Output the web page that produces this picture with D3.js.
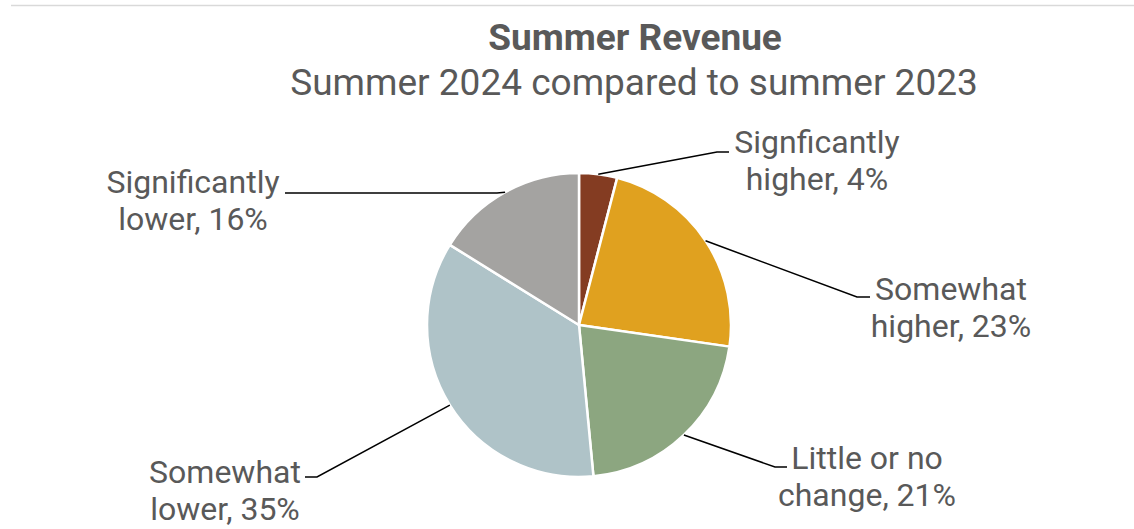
<!DOCTYPE html>
<html>
<head>
<meta charset="utf-8">
<script src="https://cdn.jsdelivr.net/npm/d3@7"></script>
<style>
  html, body { margin: 0; padding: 0; background: #fff; }
  svg { display: block; font-family: Roboto, "Noto Sans", sans-serif; }
</style>
</head>
<body>
<svg id="chart" width="1134" height="529"></svg>
<script>
// Survey answers, clockwise from 12 o'clock
const categories = ["Signficantly higher", "Somewhat higher", "Little or no change", "Somewhat lower", "Significantly lower"];
const shares = [4, 23, 21, 35, 16];
const labelLines = [
  ["Signficantly", "higher, 4%"],
  ["Somewhat", "higher, 23%"],
  ["Little or no", "change, 21%"],
  ["Somewhat", "lower, 35%"],
  ["Significantly", "lower, 16%"]
];
const title = "Summer Revenue";
const subtitle = "Summer 2024 compared to summer 2023";

// Styling and label placement
const sliceColors = ["#843C22", "#E0A11F", "#8CA680", "#AFC3C8", "#A4A3A1"];
const textColor = "#595959";
const center = { x: 579, y: 325 };
const radius = 152;
// text centre x, first baseline y, elbow of the leader, end of the leader
const labelLayout = [
  { tx: 817, ty: 153, ex: 717, ey: 152, lx: 729, ly: 152 },
  { tx: 951, ty: 300, ex: 857, ey: 297, lx: 870, ly: 297 },
  { tx: 867, ty: 469, ex: 775, ey: 467, lx: 787, ly: 467 },
  { tx: 225, ty: 483, ex: 317, ey: 477, lx: 305, ly: 477 },
  { tx: 193, ty: 193, ex: 497, ey: 193, lx: 285, ly: 193 }
];

const svg = d3.select("#chart");

// thin rule along the top
svg.append("line")
  .attr("x1", 11).attr("x2", 1134)
  .attr("y1", 5.5).attr("y2", 5.5)
  .attr("stroke", "#d9d9d9").attr("stroke-width", 1.5);

svg.append("text")
  .attr("x", 635).attr("y", 50)
  .attr("text-anchor", "middle")
  .attr("font-size", 37).attr("font-weight", 700)
  .attr("fill", textColor)
  .text(title);

svg.append("text")
  .attr("x", 634).attr("y", 95)
  .attr("text-anchor", "middle")
  .attr("font-size", 37)
  .attr("fill", textColor)
  .text(subtitle);

const data = categories.map((c, i) => ({ name: c, value: shares[i], i }));
const pie = d3.pie().sort(null).value(d => d.value);
const arcs = pie(data);
const arc = d3.arc().innerRadius(0).outerRadius(radius);

const g = svg.append("g").attr("transform", `translate(${center.x},${center.y})`);

g.selectAll("path.slice")
  .data(arcs)
  .join("path")
  .attr("class", "slice")
  .attr("d", arc)
  .attr("fill", d => sliceColors[d.data.i])
  .attr("stroke", "#fff")
  .attr("stroke-width", 2.5)
  .attr("stroke-linejoin", "round");

// leader lines start at the slice's mid-angle on the rim
arcs.forEach(d => {
  const L = labelLayout[d.data.i];
  const mid = (d.startAngle + d.endAngle) / 2;
  const sx = center.x + radius * Math.sin(mid);
  const sy = center.y - radius * Math.cos(mid);
  svg.append("polyline")
    .attr("points", [[sx, sy], [L.ex, L.ey], [L.lx, L.ly]].map(p => p.join(",")).join(" "))
    .attr("fill", "none")
    .attr("stroke", "#000")
    .attr("stroke-width", 1.5);

  const t = svg.append("text")
    .attr("text-anchor", "middle")
    .attr("font-size", 32)
    .attr("fill", textColor);
  labelLines[d.data.i].forEach((line, k) => {
    t.append("tspan")
      .attr("x", L.tx)
      .attr("y", L.ty + k * 37)
      .text(line);
  });
});
</script>
</body>
</html>
